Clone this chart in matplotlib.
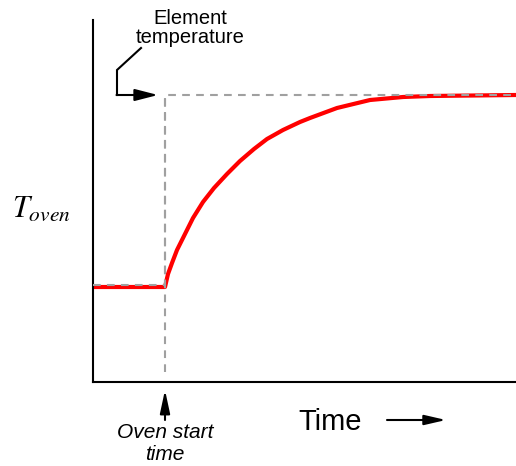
import matplotlib
matplotlib.use('Agg')
import matplotlib.pyplot as plt
from matplotlib.patches import FancyArrowPatch

plt.rcParams['font.family'] = ['Liberation Sans', 'DejaVu Sans']
plt.rcParams['mathtext.fontset'] = 'stix'

# oven temperature (time / temperature in arbitrary units)
oven_time = [0, 72, 75, 79, 84, 91, 100, 110, 121, 134, 147, 161, 174, 190, 207, 217,
             244, 277, 310, 337, 423]
oven_temp = [95, 95, 108, 119, 132, 146, 164, 180, 194, 208, 221, 233, 243, 252, 260, 264,
             274, 282, 285, 286, 287]

# element temperature (step)
element_time = [0, 72, 72, 423]
element_temp = [97, 97, 287, 287]

start_time = 72
x_max = 423
y_max = 362

fig = plt.figure(figsize=(5.16, 4.66), dpi=100)
ax = fig.add_axes([93 / 516, 84 / 466, 423 / 516, 362 / 466])
ax.set_xlim(0, x_max)
ax.set_ylim(0, y_max)
ax.spines['top'].set_visible(False)
ax.spines['right'].set_visible(False)
ax.spines['left'].set_linewidth(1.5)
ax.spines['bottom'].set_linewidth(1.5)
ax.set_xticks([])
ax.set_yticks([])

gray = '#a0a0a0'
ax.plot(element_time, element_temp, color=gray, lw=1.5, ls=(0, (3.7, 3)), zorder=3)
ax.plot([start_time, start_time], [10, 287], color=gray, lw=1.5, ls=(0, (3.7, 3)), zorder=3)
ax.plot(oven_time, oven_temp, color='red', lw=3, zorder=2, solid_joinstyle='round')

# "Element temperature" callout
ax.plot([48, 24, 24], [334, 312, 287], color='black', lw=1.5, clip_on=False,
        solid_joinstyle='miter')
ax.add_patch(FancyArrowPatch((23.5, 287), (65, 287), arrowstyle='-|>,head_length=14,head_width=3.6',
                             mutation_scale=1, color='black', lw=1.5, shrinkA=0, shrinkB=0))
fig.text(190 / 516, 1 - 28 / 466, 'Element\ntemperature', ha='center', va='center',
         fontsize=14.5, linespacing=0.95)

# y label
fig.text(41 / 516, 1 - 209 / 466, '$T_{oven}$', ha='center', va='center', fontsize=22)

# "Oven start time"
fig.text(165 / 516, 1 - 444 / 466, 'Oven start\ntime', ha='center', va='center',
         fontsize=15, style='italic', linespacing=1.2)
fig.add_artist(FancyArrowPatch(
    (165 / 516, 1 - 420 / 466), (165 / 516, 1 - 390 / 466), transform=fig.transFigure,
    arrowstyle='-|>,head_length=14,head_width=3', mutation_scale=1,
    color='black', lw=1.5, shrinkA=0, shrinkB=0))

# "Time" label with arrow
fig.text(330 / 516, 1 - 422 / 466, 'Time', ha='center', va='center', fontsize=21)
fig.add_artist(FancyArrowPatch(
    (387 / 516, 1 - 420 / 466), (446 / 516, 1 - 420 / 466), transform=fig.transFigure,
    arrowstyle='-|>,head_length=13,head_width=3', mutation_scale=1,
    color='black', lw=1.5, shrinkA=0, shrinkB=0))

fig.savefig('out.png', dpi=100)
